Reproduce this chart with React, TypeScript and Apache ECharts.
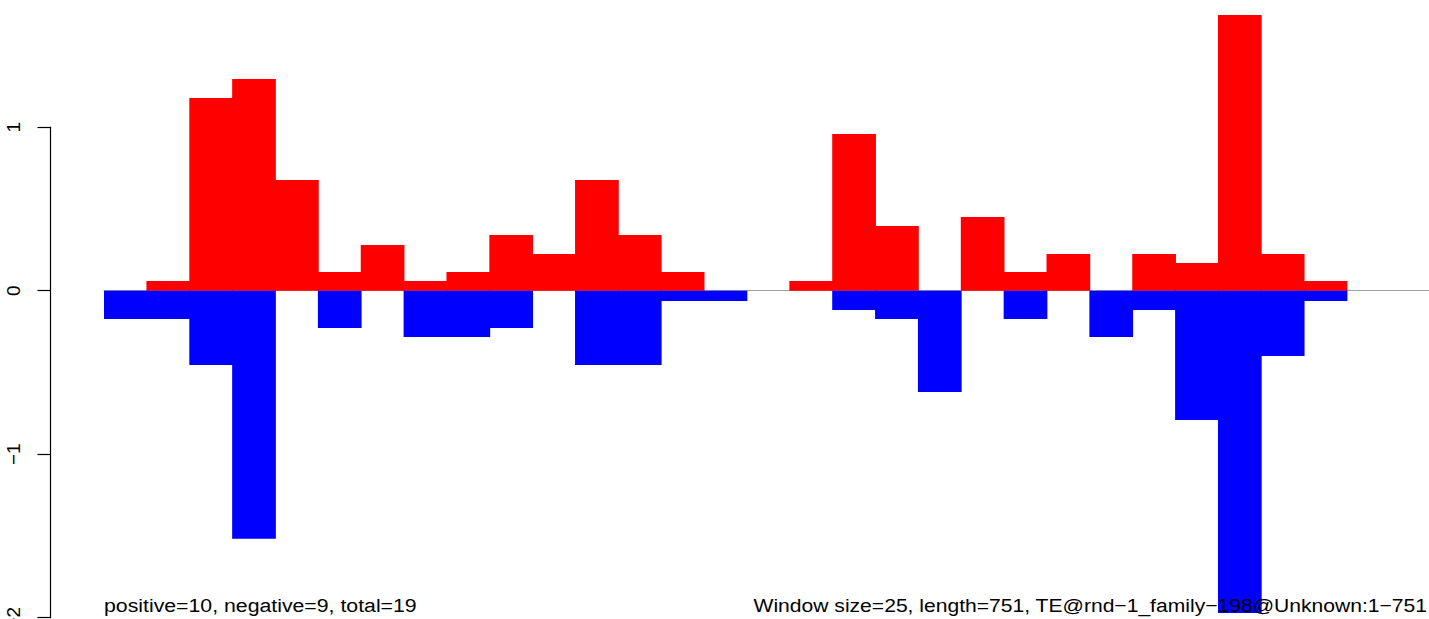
import React, { useEffect, useRef } from "react";
import * as echarts from "echarts";

// Window index (25 bp windows over a 751 bp element)
const windows: string[] = Array.from({ length: 31 }, (_, i) => String(i + 1));

// Positive-strand score per window (red)
const positiveValues: number[] = [
  0, 0.059, 1.178, 1.295, 0.677, 0.114, 0.279, 0.059, 0.114, 0.341,
  0.224, 0.677, 0.341, 0.114, 0, 0, 0.059, 0.958, 0.396, 0,
  0.451, 0.114, 0.224, 0, 0.224, 0.169, 1.686, 0.224, 0.059, 0, 0,
];

// Negative-strand score per window (blue)
const negativeValues: number[] = [
  -0.173, -0.173, -0.455, -1.517, 0, -0.228, 0, -0.283, -0.283, -0.228,
  0, -0.455, -0.455, -0.063, -0.063, 0, 0, -0.118, -0.173, -0.62,
  0, -0.173, 0, -0.283, -0.118, -0.791, -1.971, -0.4, -0.063, 0, 0,
];

const yTicks: number[] = [-2, -1, 0, 1];

const leftNote = "positive=10, negative=9, total=19";
const rightNote = "Window size=25, length=751, TE@rnd\u22121_family\u2212198@Unknown:1\u2212751";

const FONT = "'Liberation Sans', Arial, Helvetica, sans-serif";

export default function App() {
  const ref = useRef<HTMLDivElement>(null);

  useEffect(() => {
    document.body.style.margin = "0";
    if (!ref.current) return;
    const chart = echarts.init(ref.current, undefined, { renderer: "svg" });
    const fmt = (v: number) => (v < 0 ? "\u2212" + Math.abs(v) : String(v));
    const nz = (arr: number[]) => arr.map((v) => (v === 0 ? null : v));
    chart.setOption({
      animation: false,
      backgroundColor: "#ffffff",
      grid: [
        { left: 104, top: 4.6, width: 1328.7, height: 613.1, containLabel: false, outerBoundsMode: "none" },
        { left: 50.5, top: 127.2, width: 1, height: 490.5, containLabel: false, outerBoundsMode: "none" },
      ],
      xAxis: [
        {
          type: "category",
          gridIndex: 0,
          data: windows,
          boundaryGap: true,
          axisLine: { show: true, onZero: true, lineStyle: { color: "#a0a0a0", width: 1.2 } },
          axisTick: { show: false },
          axisLabel: { show: false },
          splitLine: { show: false },
        },
        {
          type: "value",
          gridIndex: 1,
          show: false,
          min: 0,
          max: 1,
        },
      ],
      yAxis: [
        {
          type: "value",
          gridIndex: 0,
          min: -2,
          max: 1.75,
          show: false,
          splitLine: { show: false },
        },
        {
          type: "value",
          gridIndex: 1,
          min: -2,
          max: 1,
          interval: 1,
          position: "left",
          axisLine: { show: true, lineStyle: { color: "#000", width: 1.2 } },
          axisTick: {
            show: true,
            inside: false,
            length: 13,
            lineStyle: { color: "#000", width: 1.2 },
            customValues: yTicks,
          },
          axisLabel: {
            show: true,
            rotate: 90,
            margin: 28,
            color: "#000",
            fontSize: 19,
            fontFamily: FONT,
            customValues: yTicks,
            formatter: (v: number) => fmt(v),
          },
          splitLine: { show: false },
        },
      ],
      series: [
        {
          name: "positive",
          type: "bar",
          xAxisIndex: 0,
          yAxisIndex: 0,
          data: nz(positiveValues),
          barWidth: "102%",
          barGap: "-100%",
          barCategoryGap: "0%",
          itemStyle: { color: "#ff0000" },
          silent: true,
        },
        {
          name: "negative",
          type: "bar",
          xAxisIndex: 0,
          yAxisIndex: 0,
          data: nz(negativeValues),
          barWidth: "102%",
          barGap: "-100%",
          barCategoryGap: "0%",
          itemStyle: { color: "#0000ff" },
          silent: true,
        },
      ],
      graphic: [
        {
          type: "text",
          x: 104,
          y: 605.5,
          z: 100,
          scaleX: 1.12,
          style: {
            text: leftNote,
            fill: "#000",
            font: `19px ${FONT}`,
            align: "left",
            verticalAlign: "middle",
          },
        },
        {
          type: "text",
          x: 1427,
          y: 605.5,
          z: 100,
          scaleX: 1.11,
          style: {
            text: rightNote,
            fill: "#000",
            font: `19px ${FONT}`,
            align: "right",
            verticalAlign: "middle",
          },
        },
      ],
    });
    return () => chart.dispose();
  }, []);

  return (
    <div
      ref={ref}
      style={{ position: "fixed", left: 0, top: 0, width: 1429, height: 619 }}
    />
  );
}
